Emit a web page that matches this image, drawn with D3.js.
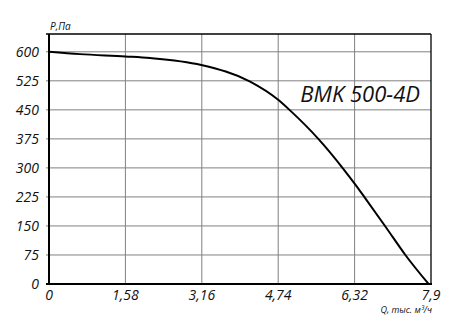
<!DOCTYPE html>
<meta charset="utf-8">
<script src="https://d3js.org/d3.v7.min.js"></script>
<style>
  body { margin: 0; background: #fff; }
  text { font-family: "Open Sans", sans-serif; font-style: italic; }
</style>
<body>
<div id="chart"></div>
<script>
// flow rate (thousand m3/h) and pressure (Pa)
var flow     = [0, 0.64, 1.58, 2.09, 3.15, 4.16, 4.74, 4.99, 5.57, 6.09, 6.34, 6.52, 6.96, 7.37, 7.85];
var pressure = [600, 594, 588, 584, 566, 523, 476, 448, 375, 297, 256, 225, 148, 75, 0];

var xTicks = [0, 1.58, 3.16, 4.74, 6.32, 7.9];
var yTicks = [0, 75, 150, 225, 300, 375, 450, 525, 600];
var title = "BMK 500-4D";

var W = 471, H = 333;
var margin = { top: 34, right: 40, bottom: 49, left: 49 },
    width = W - margin.left - margin.right,
    height = H - margin.top - margin.bottom;

var svg = d3.select("#chart").append("svg")
    .attr("width", W)
    .attr("height", H);

var g = svg.append("g")
    .attr("transform", "translate(" + margin.left + "," + margin.top + ")");

var x = d3.scaleLinear().domain([0, 7.9]).range([0, width]);
var y = d3.scaleLinear().domain([0, 646]).range([height, 0]);

var fmt = function (d) { return String(d).replace(".", ","); };

// grid
g.append("g").selectAll("line").data(xTicks.slice(1, -1)).enter().append("line")
    .attr("x1", d => x(d)).attr("x2", d => x(d))
    .attr("y1", 0).attr("y2", height)
    .attr("stroke", "#808080").attr("stroke-width", 1);

g.append("g").selectAll("line").data(yTicks.slice(1)).enter().append("line")
    .attr("x1", -3).attr("x2", width)
    .attr("y1", d => y(d)).attr("y2", d => y(d))
    .attr("stroke", "#808080").attr("stroke-width", 1);

// frame
g.append("line").attr("x1", -3).attr("x2", width).attr("y1", 0).attr("y2", 0)
    .attr("stroke", "#000").attr("stroke-width", 1.3);
g.append("line").attr("x1", width).attr("x2", width).attr("y1", 0).attr("y2", height)
    .attr("stroke", "#000").attr("stroke-width", 1.3);
g.append("line").attr("x1", 0).attr("x2", 0).attr("y1", 0).attr("y2", height + 1)
    .attr("stroke", "#000").attr("stroke-width", 2);
g.append("line").attr("x1", -3).attr("x2", width + 1).attr("y1", height).attr("y2", height)
    .attr("stroke", "#000").attr("stroke-width", 2);

// tick labels
g.append("g").selectAll("text").data(yTicks).enter().append("text")
    .attr("x", -10).attr("y", d => y(d)).attr("dy", "0.35em")
    .attr("text-anchor", "end")
    .attr("font-size", 14)
    .attr("fill", "#111")
    .text(fmt);

g.append("g").selectAll("text").data(xTicks).enter().append("text")
    .attr("x", d => x(d)).attr("y", height + 16)
    .attr("text-anchor", "middle")
    .attr("font-size", 14)
    .attr("fill", "#111")
    .text(fmt);

// curve
var pts = flow.map((f, i) => [f, pressure[i]]);
g.append("path")
    .datum(pts)
    .attr("fill", "none")
    .attr("stroke", "#000")
    .attr("stroke-width", 2)
    .attr("d", d3.line().x(d => x(d[0])).y(d => y(d[1])).curve(d3.curveMonotoneX));

// labels
g.append("text").attr("x", 1).attr("y", -4)
    .attr("font-size", 10).attr("fill", "#111").text("P,Па");

g.append("text").attr("x", width + 1).attr("y", height + 29)
    .attr("text-anchor", "end")
    .attr("font-size", 9).attr("fill", "#111")
    .text("Q, тыс. м³/ч");

g.append("text").attr("x", 420 - margin.left).attr("y", 102 - margin.top)
    .attr("text-anchor", "end")
    .attr("font-size", 22).attr("fill", "#111")
    .text(title);
</script>
</body>
